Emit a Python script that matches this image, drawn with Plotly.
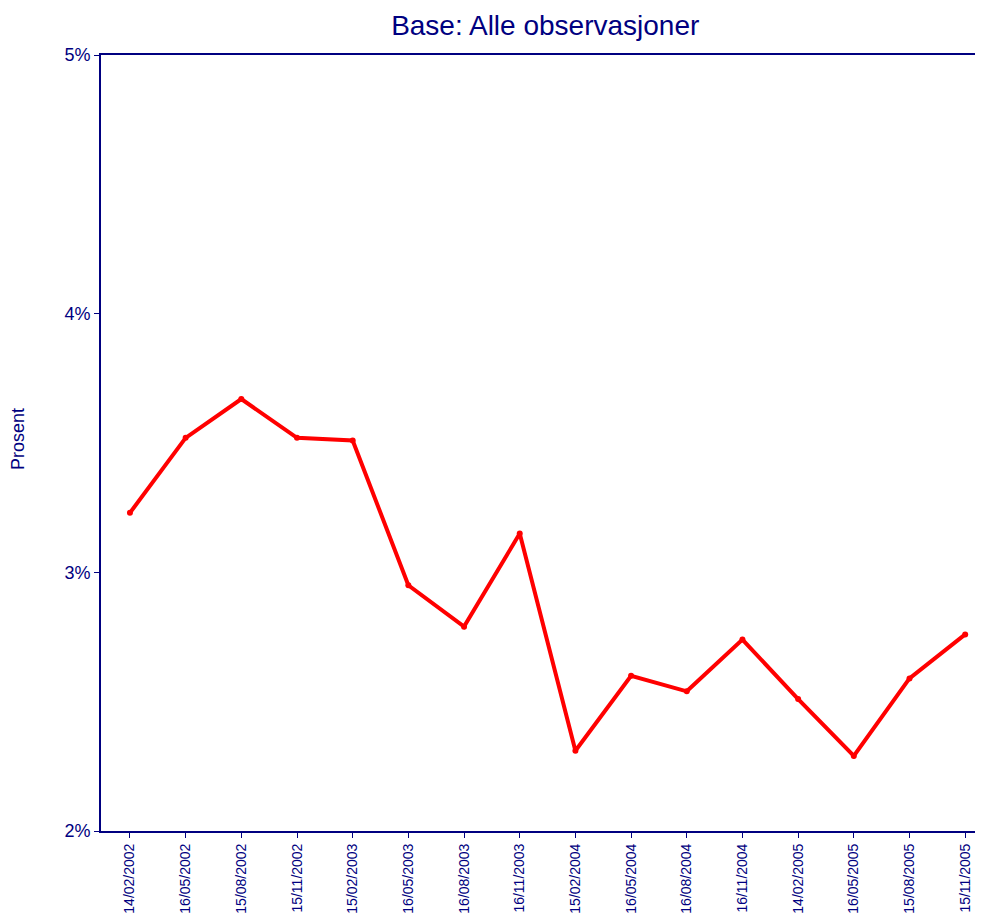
import plotly.graph_objects as go

dates = ["14/02/2002", "16/05/2002", "15/08/2002", "15/11/2002", "15/02/2003",
         "16/05/2003", "16/08/2003", "16/11/2003", "15/02/2004", "16/05/2004",
         "16/08/2004", "16/11/2004", "14/02/2005", "16/05/2005", "15/08/2005",
         "15/11/2005"]
prosent = [3.23, 3.52, 3.67, 3.52, 3.51, 2.95, 2.79, 3.15, 2.31, 2.60,
           2.54, 2.74, 2.51, 2.29, 2.59, 2.76]
y_ticks = [2, 3, 4, 5]
y_ticktext = ["2%", "3%", "4%", "5%"]

navy = "#000080"
fig = go.Figure(go.Scatter(
    x=dates, y=prosent, mode="lines+markers",
    line=dict(color="#ff0000", width=4),
    marker=dict(color="#ff0000", size=6),
))
# page body has an 8px margin; compensate so the plot sits where the reference's does
fig.update_layout(
    width=975, height=907,
    margin=dict(l=93, r=0, t=47, b=84, autoexpand=False),
    paper_bgcolor="white", plot_bgcolor="white",
    showlegend=False,
    font=dict(family="Liberation Sans, Arial", color=navy),
    title=dict(text="Base: Alle observasjoner", xref="container", x=0.551,
               xanchor="center", yref="container", y=1 - 17 / 907,
               yanchor="middle", font=dict(size=28, color=navy)),
    annotations=[dict(text="Prosent", textangle=-90, xref="paper", yref="paper",
                      x=-83 / 882, y=0.505, xanchor="center", yanchor="middle",
                      showarrow=False, font=dict(size=18, color=navy))],
)
fig.update_xaxes(
    type="category", range=[-0.52, 15.32], tickangle=-90,
    showgrid=False, zeroline=False,
    showline=True, linecolor=navy, linewidth=2, mirror=True,
    ticks="outside", ticklen=5, tickcolor=navy,
    tickfont=dict(size=14, color=navy), automargin=False,
)
fig.update_yaxes(
    range=[2, 5], tickvals=y_ticks, ticktext=y_ticktext,
    showgrid=False, zeroline=False,
    showline=True, linecolor=navy, linewidth=2,
    ticks="outside", ticklen=5, tickcolor=navy,
    tickfont=dict(size=18, color=navy), automargin=False,
)
fig.write_html("out.html")
